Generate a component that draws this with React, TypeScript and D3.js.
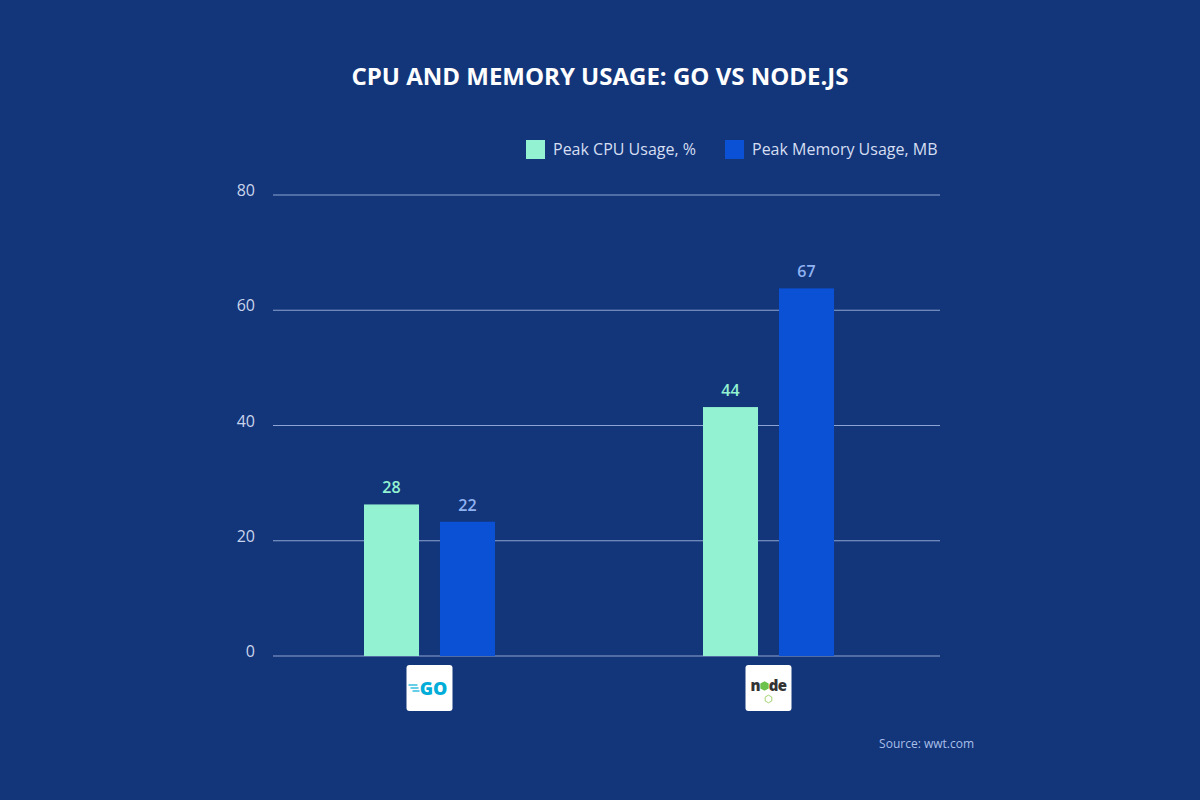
import React, { useRef, useEffect } from "react";
import * as d3 from "d3";

// values (bar heights) and the labels printed above them
const languages = ["Go", "Node.js"];
const cpuValues = [26.3, 43.2];
const memValues = [23.3, 63.8];
const cpuLabels = ["28", "44"];
const memLabels = ["22", "67"];
const yTicks = [0, 20, 40, 60, 80];
const seriesNames = ["Peak CPU Usage, %", "Peak Memory Usage, MB"];

const W = 1200;
const H = 800;
const bg = "#13367a";
const cpuColor = "#93f2d1";
const memColor = "#0a51d6";
const font = "'Open Sans', 'Noto Sans', sans-serif";

const App = () => {
    const svgRef = useRef<SVGSVGElement>(null);

    useEffect(() => {
        const svg = d3.select(svgRef.current);
        svg.selectAll("*").remove();

        svg.append("rect").attr("width", W).attr("height", H).attr("fill", bg);

        // title
        svg.append("text")
            .attr("x", 600).attr("y", 85)
            .attr("text-anchor", "middle")
            .style("font-family", font).style("font-weight", 700)
            .style("font-size", "24px").attr("fill", "#ffffff")
            .text("CPU AND MEMORY USAGE: GO VS NODE.JS");

        const yScale = d3.scaleLinear().domain([0, 80]).range([656, 195]);
        const xScale = d3.scaleBand().domain(languages).range([260, 938]);
        const xSub = d3.scaleBand().domain(["cpu", "mem"]).range([0, 131]).paddingInner(0.276);

        // grid + tick labels
        const grid = svg.append("g");
        grid.selectAll("line")
            .data(yTicks)
            .join("line")
            .attr("x1", 273).attr("x2", 940)
            .attr("y1", d => yScale(d)).attr("y2", d => yScale(d))
            .attr("stroke", "#8ea4d2").attr("stroke-width", 1);
        grid.selectAll("text")
            .data(yTicks)
            .join("text")
            .attr("x", 255).attr("y", d => yScale(d) + 1)
            .attr("text-anchor", "end")
            .style("font-family", font).style("font-size", "16px")
            .attr("fill", "#c9d4ec")
            .text(d => d);

        const rows = languages.map((lang, i) => ({
            lang,
            bars: [
                { key: "cpu", value: cpuValues[i], label: cpuLabels[i], color: cpuColor, labelColor: cpuColor },
                { key: "mem", value: memValues[i], label: memLabels[i], color: memColor, labelColor: "#8fb2f2" },
            ],
        }));

        const groups = svg.selectAll("g.grp")
            .data(rows)
            .join("g")
            .attr("class", "grp")
            .attr("transform", d => `translate(${(xScale(d.lang) as number) + xScale.bandwidth() / 2 - 65.5},0)`);

        groups.selectAll("rect")
            .data(d => d.bars)
            .join("rect")
            .attr("x", d => xSub(d.key) as number)
            .attr("width", xSub.bandwidth())
            .attr("y", d => yScale(d.value))
            .attr("height", d => yScale(0) - yScale(d.value))
            .attr("fill", d => d.color);

        groups.selectAll("text")
            .data(d => d.bars)
            .join("text")
            .attr("x", d => (xSub(d.key) as number) + xSub.bandwidth() / 2)
            .attr("y", d => yScale(d.value) - 11)
            .attr("text-anchor", "middle")
            .style("font-family", font).style("font-weight", 600)
            .style("font-size", "16px")
            .attr("fill", d => d.labelColor)
            .text(d => d.label);

        // logo tiles under each group
        const logos = svg.selectAll("g.logo")
            .data(languages)
            .join("g")
            .attr("class", "logo")
            .attr("transform", d => `translate(${(xScale(d) as number) + xScale.bandwidth() / 2},688)`);
        logos.append("rect")
            .attr("x", -23).attr("y", -23).attr("width", 46).attr("height", 46)
            .attr("rx", 3).attr("fill", "#ffffff");

        const goLogo = logos.filter(d => d === "Go");
        goLogo.append("text")
            .attr("x", 4).attr("y", 6.5)
            .attr("text-anchor", "middle")
            .style("font-family", font).style("font-weight", 800)
            .style("font-size", "18px")
            .attr("fill", "#00add8")
            .text("GO");
        [[-21, -12, -3], [-19, -11, 0], [-17, -10, 3]].forEach(([x1, x2, y]) => {
            goLogo.append("line")
                .attr("x1", x1).attr("x2", x2).attr("y1", y).attr("y2", y)
                .attr("stroke", "#00add8").attr("stroke-width", 1.2);
        });

        const nodeLogo = logos.filter(d => d === "Node.js");
        [["n", -13], ["d", 5], ["e", 14]].forEach(([ch, x]) => {
            nodeLogo.append("text")
                .attr("x", x as number).attr("y", 3)
                .attr("text-anchor", "middle")
                .style("font-family", font).style("font-weight", 800)
                .style("font-size", "15px").attr("fill", "#333333")
                .text(ch as string);
        });
        const hex = d3.range(6).map(k => {
            const a = Math.PI / 3 * k + Math.PI / 6;
            return [Math.cos(a) * 4.8, Math.sin(a) * 4.8];
        });
        nodeLogo.append("path")
            .attr("transform", "translate(-4,-2)")
            .attr("d", "M" + hex.map(p => p.join(",")).join("L") + "Z")
            .attr("fill", "#6cc24a");
        nodeLogo.append("path")
            .attr("transform", "translate(0,11)")
            .attr("d", "M" + hex.map(p => [p[0] * 0.8, p[1] * 0.8].join(",")).join("L") + "Z")
            .attr("fill", "none").attr("stroke", "#8cc84b").attr("stroke-width", 0.8);

        // legend
        const legendX = [526, 725];
        const legend = svg.selectAll("g.leg")
            .data(seriesNames)
            .join("g")
            .attr("class", "leg")
            .attr("transform", (d, i) => `translate(${legendX[i]},140)`);
        legend.append("rect")
            .attr("width", 19).attr("height", 19)
            .attr("fill", (d, i) => (i === 0 ? cpuColor : memColor));
        legend.append("text")
            .attr("x", 27).attr("y", 15)
            .style("font-family", font).style("font-size", "16px")
            .attr("fill", "#d5def2")
            .text(d => d);

        svg.append("text")
            .attr("x", 974).attr("y", 748)
            .attr("text-anchor", "end")
            .style("font-family", font).style("font-size", "12px")
            .attr("fill", "#a9bfe9")
            .text("Source: wwt.com");
    }, []);

    return (
        <div>
            <svg ref={svgRef} width={W} height={H}
                style={{ position: "absolute", left: 0, top: 0 }}>
            </svg>
        </div>
    );
};

export default App;
